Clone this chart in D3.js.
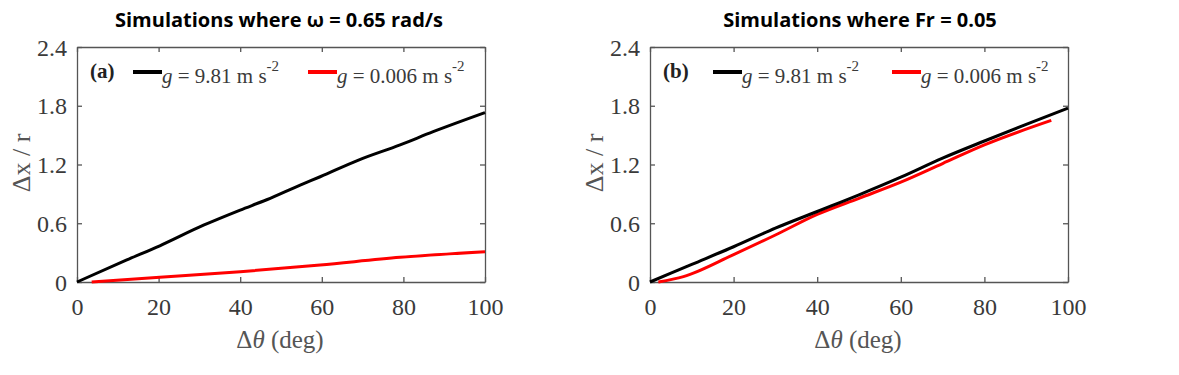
<!DOCTYPE html>
<html>
<head>
<meta charset="utf-8">
<script src="https://cdn.jsdelivr.net/npm/d3@7"></script>
<style>
  body { margin: 0; background: #fff; }
  .tick text { font-family: "Liberation Serif", serif; font-size: 24px; fill: #3a3a3a; }
  .domain, .tick line { stroke: #555; stroke-width: 1.3; }
</style>
</head>
<body>
<svg id="fig" width="1179" height="375"></svg>
<script>
// tick values shared by both panels
const xTicks = [0, 20, 40, 60, 80, 100];
const yTicks = [0, 0.6, 1.2, 1.8, 2.4];

// (a) omega = 0.65 rad/s
const degA_g981 = [0, 12.2, 20.3, 31, 40, 46.5, 54.7, 59.6, 69, 79.2, 87.3, 100];
const dxA_g981  = [0, 0.225, 0.37, 0.58, 0.735, 0.84, 0.99, 1.075, 1.245, 1.40, 1.535, 1.73];
const degA_g0006 = [3.6, 20.3, 40, 59.6, 79.2, 100];
const dxA_g0006  = [0, 0.048, 0.105, 0.174, 0.252, 0.31];

// (b) Fr = 0.05
const degB_g981 = [0, 10, 20, 30, 40, 50, 60, 70, 80, 90, 100];
const dxB_g981  = [0, 0.18, 0.36, 0.55, 0.72, 0.89, 1.07, 1.265, 1.44, 1.61, 1.775];
const degB_g0006 = [2, 8, 20, 30, 40, 50, 60, 70, 80, 96];
const dxB_g0006  = [0, 0.055, 0.28, 0.48, 0.69, 0.855, 1.02, 1.21, 1.40, 1.65];

const svg = d3.select('#fig');
const zip = (xs, ys) => xs.map((x, i) => ({x: x, y: ys[i]}));

const drawPanel = p => {
    const xScale = d3.scaleLinear().domain([0, 100]).range([p.left, p.right]);
    const yScale = d3.scaleLinear().domain([0, 2.4]).range([282, 47]);
    const g = svg.append('g');

    const xAxisG = g.append('g')
        .attr('transform', 'translate(0,282)')
        .call(d3.axisBottom(xScale).tickValues(xTicks).tickSizeInner(-5).tickSizeOuter(0).tickPadding(17));
    g.append('g')
        .attr('transform', 'translate(0,47)')
        .call(d3.axisTop(xScale).tickValues(xTicks).tickSizeInner(-5).tickSizeOuter(0).tickFormat(''));
    const yAxisG = g.append('g')
        .attr('transform', `translate(${p.left},0)`)
        .call(d3.axisLeft(yScale).tickValues(yTicks).tickSizeInner(-5).tickSizeOuter(0).tickPadding(10)
            .tickFormat(d3.format('')));
    g.append('g')
        .attr('transform', `translate(${p.right},0)`)
        .call(d3.axisRight(yScale).tickValues(yTicks).tickSizeInner(-5).tickSizeOuter(0).tickFormat(''));
    xAxisG.selectAll('.tick text').attr('dy', '0.66em');
    yAxisG.selectAll('.tick text').attr('dy', '0.34em');

    const line = d3.line()
        .x(d => xScale(d.x))
        .y(d => yScale(d.y))
        .curve(d3.curveMonotoneX);

    g.append('path').datum(p.red)
        .attr('d', line).attr('fill', 'none')
        .attr('stroke', '#ff0000').attr('stroke-width', 3);
    g.append('path').datum(p.black)
        .attr('d', line).attr('fill', 'none')
        .attr('stroke', '#000').attr('stroke-width', 3);

    // axis titles
    const xl = g.append('text')
        .attr('x', (p.left + p.right) / 2 - 1).attr('y', 348)
        .attr('text-anchor', 'middle')
        .attr('font-family', 'Liberation Serif').attr('font-size', 25).attr('fill', '#555');
    xl.append('tspan').text('\u0394');
    xl.append('tspan').attr('font-style', 'italic').text('\u03b8');
    xl.append('tspan').text(' (deg)');

    g.append('text')
        .attr('transform', `translate(${p.ylabX},163) rotate(-90)`)
        .attr('text-anchor', 'middle')
        .attr('font-family', 'Liberation Serif').attr('font-size', 26).attr('fill', '#555')
        .text('\u0394x / r');

    // legend
    g.append('text')
        .attr('x', p.left + 13).attr('y', 78)
        .attr('font-family', 'Liberation Serif').attr('font-weight', 'bold')
        .attr('font-size', 21).attr('fill', '#222')
        .text(p.tag);

    p.legend.forEach(l => {
        g.append('line')
            .attr('x1', l.x).attr('x2', l.x + 29)
            .attr('y1', 72).attr('y2', 72)
            .attr('stroke', l.color).attr('stroke-width', 4);
        const t = g.append('text')
            .attr('x', l.x + 29).attr('y', 83)
            .attr('font-family', 'Liberation Serif').attr('font-size', 21).attr('fill', '#3a3a3a');
        t.append('tspan').attr('font-style', 'italic').text('g');
        t.append('tspan').text(` = ${l.val} m s`);
        t.append('tspan').attr('dy', -12).attr('font-size', 15).text('-2');
    });

    svg.append('text')
        .attr('x', p.titleX).attr('y', 27)
        .attr('text-anchor', 'middle')
        .attr('font-family', 'Open Sans').attr('font-weight', 'bold')
        .attr('font-size', 20).attr('fill', '#000')
        .text(p.title);
};

drawPanel({
    left: 77, right: 485, ylabX: 30, tag: '(a)',
    title: 'Simulations where \u03c9 = 0.65 rad/s', titleX: 279,
    black: zip(degA_g981, dxA_g981), red: zip(degA_g0006, dxA_g0006),
    legend: [{x: 133, color: '#000', val: '9.81'}, {x: 308, color: '#ff0000', val: '0.006'}]
});
drawPanel({
    left: 650, right: 1068, ylabX: 603, tag: '(b)',
    title: 'Simulations where Fr = 0.05', titleX: 860,
    black: zip(degB_g981, dxB_g981), red: zip(degB_g0006, dxB_g0006),
    legend: [{x: 713, color: '#000', val: '9.81'}, {x: 892, color: '#ff0000', val: '0.006'}]
});
</script>
</body>
</html>
